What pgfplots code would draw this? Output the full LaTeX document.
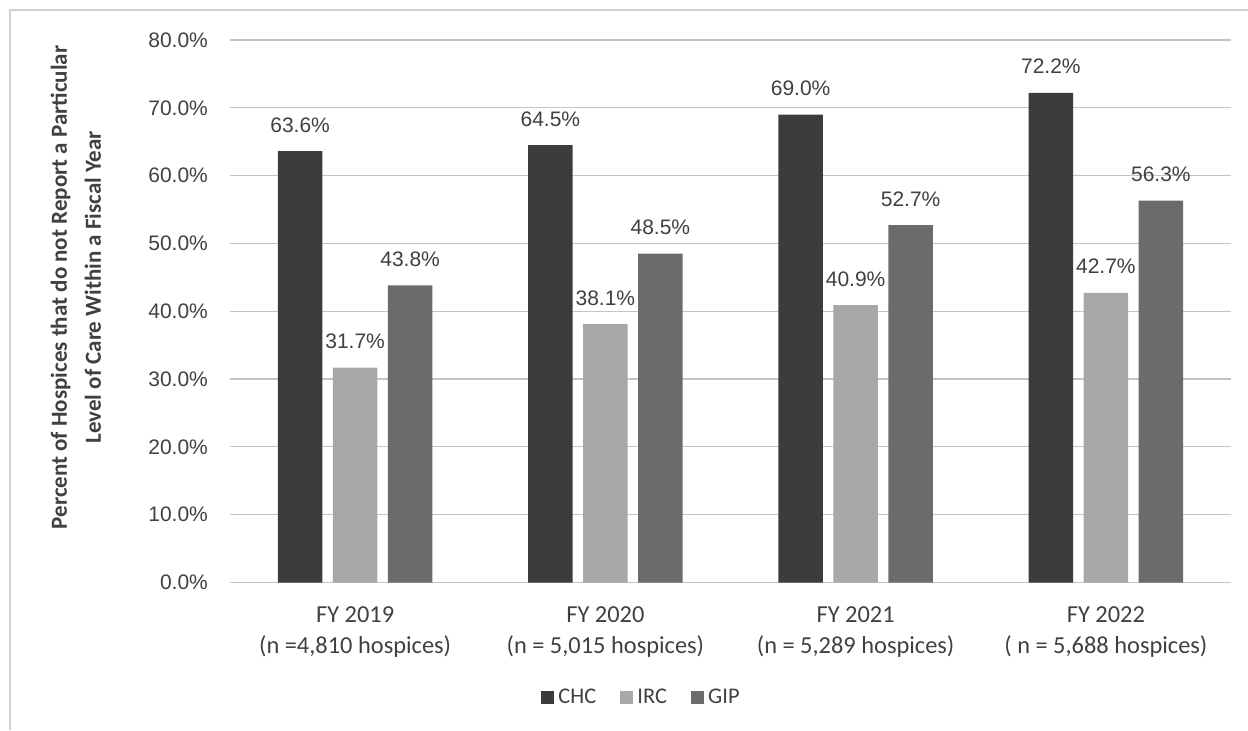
\documentclass[border=0pt]{standalone}
\usepackage{pgfplots}
\pgfplotsset{compat=1.18}
\usepackage{fontspec}
\setmainfont{Carlito}
\newfontfamily\arialf{Liberation Sans}
\newfontfamily\carl{Carlito}

\definecolor{chc}{HTML}{3C3C3C}
\definecolor{irc}{HTML}{A8A8A8}
\definecolor{gip}{HTML}{6B6B6B}
\definecolor{txt}{HTML}{404040}
\definecolor{gridc}{HTML}{C4C4C4}
\definecolor{framec}{HTML}{D0D0D0}

\begin{document}
\begin{tikzpicture}
% page extent: the axis box starts 115pt from the left and 73.75pt from the bottom
\useasboundingbox (-115pt,-73.75pt) rectangle (509pt,291.25pt);
% chart area border (top and left edges)
\draw[framec, line width=0.6pt] (-110pt,-73.75pt) -- (-110pt,286.25pt) -- (509pt,286.25pt);

\begin{axis}[
  at={(0pt,0pt)}, anchor=south west,
  scale only axis,
  width=500.5pt, height=271.25pt,
  xmin=-0.5, xmax=3.5,
  ymin=0, ymax=80,
  ybar=5.3pt,
  bar width=22.2pt,
  axis line style={draw=none},
  major tick length=0pt,
  tick style={draw=none},
  ytick={0,10,...,80},
  ymajorgrids,
  grid style={gridc, line width=0.6pt},
  xtick={0,1,2,3},
  xticklabels={{FY 2019\\(n =4,810 hospices)},
               {FY 2020\\(n = 5,015 hospices)},
               {FY 2021\\(n = 5,289 hospices)},
               {FY 2022\\( n = 5,688 hospices)}},
  xticklabel style={align=center, anchor=north, inner sep=0pt, yshift=-12pt,
    font=\fontsize{12.2}{15.5}\selectfont\carl, text=txt},
  yticklabel={\pgfmathprintnumber[fixed, fixed zerofill, precision=1, assume math mode=true]{\tick}\%},
  yticklabel style={anchor=east, inner sep=0pt, xshift=-10.85pt,
    font=\fontsize{10.5}{12}\selectfont\arialf, text=txt},
  nodes near coords={\pgfmathprintnumber[fixed, fixed zerofill, precision=1, assume math mode=true]{\pgfplotspointmeta}\%},
  every node near coord/.append style={anchor=base, inner sep=0pt, yshift=9.5pt,
    font=\fontsize{10.5}{12}\selectfont\arialf, text=txt},
  legend columns=3,
  legend style={at={(0.412,-0.212)}, anchor=center, draw=none, fill=none,
    font=\fontsize{11.2}{13}\selectfont\carl, text=txt,
    /tikz/every even column/.append style={column sep=10pt},
    inner sep=0pt},
  legend image code/.code={\fill[#1] (0pt,-3.3pt) rectangle (6.6pt,3.3pt);},
  clip=false,
]
\addplot[fill=chc, draw=none] coordinates {(0,63.6) (1,64.5) (2,69.0) (3,72.2)};
\addplot[fill=irc, draw=none] coordinates {(0,31.7) (1,38.1) (2,40.9) (3,42.7)};
\addplot[fill=gip, draw=none] coordinates {(0,43.8) (1,48.5) (2,52.7) (3,56.3)};
\legend{CHC, IRC, GIP}
\end{axis}

% value axis title
\node[rotate=90, align=center, text=txt, font=\fontsize{11.5}{17}\selectfont\bfseries\carl]
  at (-77pt,147.5pt) {Percent of Hospices that do not Report a Particular\\Level of Care Within a Fiscal Year};
\end{tikzpicture}
\end{document}
